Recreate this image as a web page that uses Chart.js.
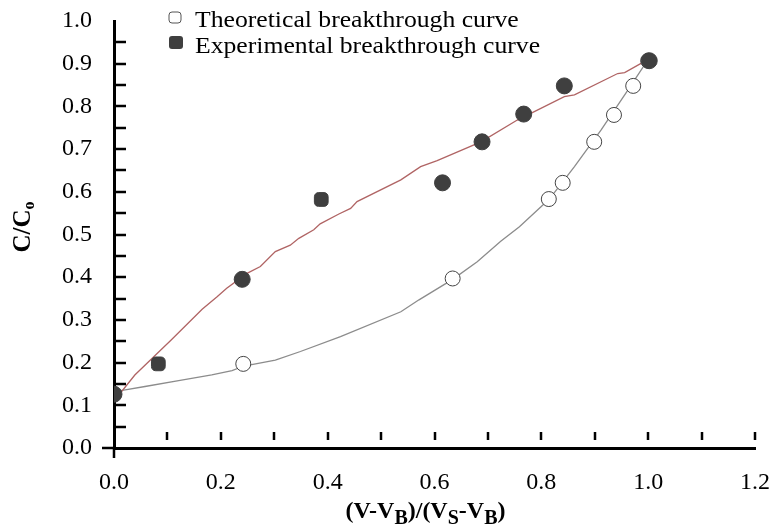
<!DOCTYPE html>
<html>
<head>
<meta charset="utf-8">
<script src="https://cdn.jsdelivr.net/npm/chart.js@4.4.1/dist/chart.umd.min.js"></script>
<style>
  html, body { margin: 0; padding: 0; background: #fff; }
  #wrap { width: 772px; height: 532px; }
</style>
</head>
<body>
<div id="wrap"><canvas id="chart" width="772" height="532"></canvas></div>
<script>
// breakthrough points
const theoX = [0.242, 0.634, 0.814, 0.840, 0.899, 0.936, 0.972, 1.0];
const theoY = [0.197, 0.397, 0.583, 0.621, 0.717, 0.780, 0.848, 0.907];
const expX = [0, 0.083, 0.240, 0.388, 0.615, 0.689, 0.767, 0.843, 1.002];
const expY = [0.126, 0.197, 0.395, 0.582, 0.621, 0.717, 0.782, 0.848, 0.907];

// traced curves
const redLineX = [0, 0.039, 0.107, 0.165, 0.193, 0.211, 0.249, 0.274, 0.302, 0.330, 0.346, 0.374, 0.386, 0.421, 0.443, 0.455, 0.537, 0.574, 0.605, 0.687, 0.755, 0.843, 0.862, 0.943, 0.956, 1.0];
const redLineY = [0.110, 0.171, 0.253, 0.325, 0.354, 0.374, 0.409, 0.425, 0.460, 0.475, 0.491, 0.511, 0.525, 0.548, 0.561, 0.577, 0.628, 0.659, 0.673, 0.717, 0.768, 0.823, 0.827, 0.877, 0.879, 0.910];
const grayLineX = [0, 0.021, 0.058, 0.121, 0.183, 0.221, 0.243, 0.302, 0.349, 0.424, 0.537, 0.571, 0.634, 0.680, 0.724, 0.759, 0.815, 0.862, 0.912, 0.962, 1.0];
const grayLineY = [0.132, 0.136, 0.144, 0.158, 0.171, 0.181, 0.192, 0.206, 0.226, 0.261, 0.319, 0.347, 0.395, 0.436, 0.484, 0.518, 0.583, 0.659, 0.745, 0.838, 0.910];

const legendLabels = ['Theoretical breakthrough curve', 'Experimental breakthrough curve'];
const yTitle = 'C/C';
const yTitleSub = 'o';

function pts(xs, ys) {
    return xs.map((x, i) => ({ x: x, y: ys[i] }));
}

const serif = "'Liberation Serif', 'Times New Roman', serif";
const markerGray = '#3f3f3f';

// axis decorations: inner ticks, titles, legend
const decor = {
    id: 'decor',
    afterDraw(chart) {
        const ctx = chart.ctx;
        const xs = chart.scales.x, ys = chart.scales.y;
        const x0 = xs.getPixelForValue(0), y0 = ys.getPixelForValue(0);
        ctx.save();
        ctx.strokeStyle = '#000';
        ctx.lineWidth = 2.5;
        ctx.beginPath();
        for (let v = 0.05; v <= 0.951; v += 0.05) {
            const py = Math.round(ys.getPixelForValue(v));
            ctx.moveTo(x0 + 2, py);
            ctx.lineTo(x0 + 12, py);
        }
        for (let v = 0.1; v <= 1.201; v += 0.1) {
            const px = Math.round(xs.getPixelForValue(v));
            ctx.moveTo(px, y0 - 16);
            ctx.lineTo(px, y0 - 8);
        }
        ctx.moveTo(x0 - 12, y0);
        ctx.lineTo(x0, y0);
        ctx.moveTo(x0, y0);
        ctx.lineTo(x0, y0 + 10);
        ctx.stroke();

        ctx.fillStyle = '#000';
        // y title
        ctx.save();
        ctx.translate(24, 227);
        ctx.rotate(-Math.PI / 2);
        ctx.font = 'bold 25px ' + serif;
        const w1 = ctx.measureText(yTitle).width;
        ctx.font = 'bold 16px ' + serif;
        const w2 = ctx.measureText(yTitleSub).width;
        let sx = -(w1 + w2) / 2;
        ctx.textBaseline = 'middle';
        ctx.font = 'bold 25px ' + serif;
        ctx.fillText(yTitle, sx, 0);
        ctx.font = 'bold 16px ' + serif;
        ctx.fillText(yTitleSub, sx + w1, 6);
        ctx.restore();

        // x title with subscripts
        const parts = [['(V-V', 0], ['B', 1], [')/(V', 0], ['S', 1], ['-V', 0], ['B', 1], [')', 0]];
        let total = 0;
        parts.forEach(p => {
            ctx.font = (p[1] ? 'bold 20px ' : 'bold 24px ') + serif;
            total += ctx.measureText(p[0]).width;
        });
        let cx = (xs.left + xs.right) / 2 - 9 - total / 2;
        ctx.textBaseline = 'alphabetic';
        parts.forEach(p => {
            ctx.font = (p[1] ? 'bold 20px ' : 'bold 24px ') + serif;
            ctx.fillText(p[0], cx, p[1] ? 524 : 518);
            cx += ctx.measureText(p[0]).width;
        });

        // legend (the original type is a little wide)
        ctx.save();
        ctx.translate(195, 0);
        ctx.scale(1.07, 1);
        ctx.font = '24px ' + serif;
        ctx.textBaseline = 'middle';
        ctx.fillText(legendLabels[0], 0, 21);
        ctx.fillText(legendLabels[1], 0, 47);
        ctx.restore();
        ctx.lineWidth = 1;
        ctx.strokeStyle = '#555';
        ctx.fillStyle = '#fff';
        ctx.beginPath();
        ctx.roundRect(169, 12, 12, 11, 3);
        ctx.fill();
        ctx.stroke();
        ctx.fillStyle = markerGray;
        ctx.beginPath();
        ctx.roundRect(169, 36, 14, 13, 3);
        ctx.fill();
        ctx.restore();
    }
};

new Chart(document.getElementById('chart'), {
    type: 'scatter',
    data: {
        datasets: [{
            label: legendLabels[1],
            data: pts(expX, expY),
            showLine: false,
            pointRadius: 8,
            pointHoverRadius: 8,
            pointBackgroundColor: markerGray,
            pointBorderColor: markerGray,
            pointStyle: ['circle', 'rectRounded', 'circle', 'rectRounded', 'circle', 'circle', 'circle', 'circle', 'circle'],
            order: 0
        }, {
            label: legendLabels[0],
            data: pts(theoX, theoY),
            showLine: false,
            pointRadius: 7.5,
            pointHoverRadius: 7.5,
            pointBackgroundColor: '#fff',
            pointBorderColor: '#444',
            pointBorderWidth: 1,
            order: 1
        }, {
            label: 'exp curve',
            data: pts(redLineX, redLineY),
            showLine: true,
            borderColor: '#b06464',
            borderWidth: 1.3,
            pointRadius: 0,
            tension: 0,
            order: 2
        }, {
            label: 'theo curve',
            data: pts(grayLineX, grayLineY),
            showLine: true,
            borderColor: '#8c8c8c',
            borderWidth: 1.3,
            pointRadius: 0,
            tension: 0,
            order: 3
        }]
    },
    options: {
        responsive: false,
        animation: false,
        layout: { padding: { top: 21, right: 17, left: 0, bottom: 0 } },
        plugins: {
            legend: { display: false },
            tooltip: { enabled: false }
        },
        scales: {
            x: {
                type: 'linear',
                min: 0,
                max: 1.2,
                grid: { display: false },
                border: { display: true, color: '#000', width: 3 },
                ticks: {
                    stepSize: 0.2,
                    padding: 12,
                    color: '#000',
                    font: { family: serif, size: 24 },
                    callback: v => v.toFixed(1)
                },
                afterFit: s => { s.height = 84; s.paddingLeft = 0; s.paddingRight = 0; }
            },
            y: {
                min: 0,
                max: 1,
                grid: { display: false },
                border: { display: true, color: '#000', width: 3 },
                ticks: {
                    stepSize: 0.1,
                    padding: 14,
                    color: '#000',
                    font: { family: serif, size: 24 },
                    callback: v => v.toFixed(1)
                },
                afterFit: s => { s.width = 114; s.paddingTop = 0; s.paddingBottom = 0; }
            }
        }
    },
    plugins: [decor]
});
</script>
</body>
</html>
